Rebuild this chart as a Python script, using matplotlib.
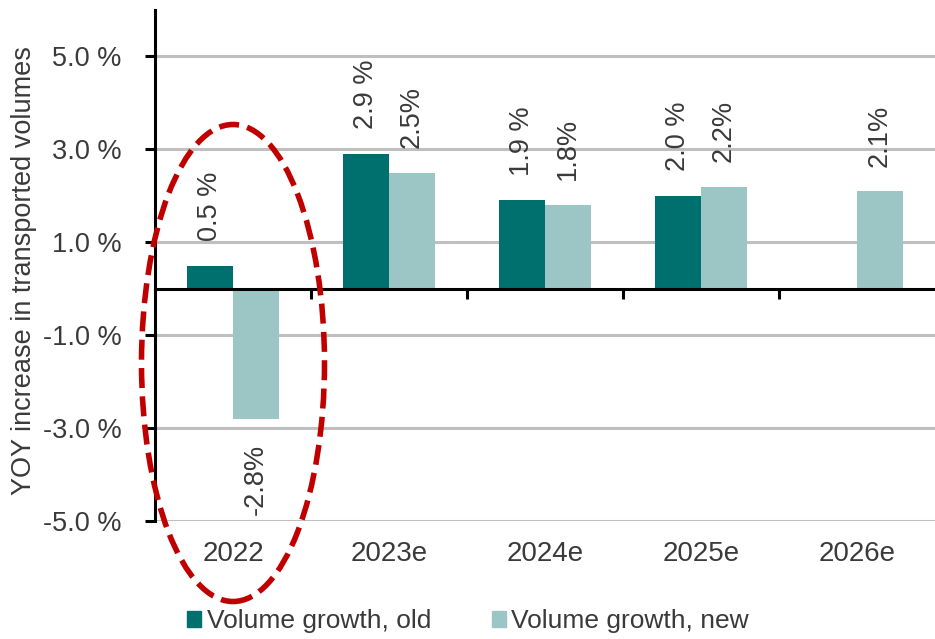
"""Year-on-year growth in transported volumes, old vs new forecast."""

import numpy as np
import matplotlib.pyplot as plt
from matplotlib.patches import Ellipse, Patch

YEARS = ["2022", "2023e", "2024e", "2025e", "2026e"]
GROWTH_OLD = [0.5, 2.9, 1.9, 2.0, np.nan]
GROWTH_NEW = [-2.8, 2.5, 1.8, 2.2, 2.1]
LABELS_OLD = ["0.5 %", "2.9 %", "1.9 %", "2.0 %", ""]
LABELS_NEW = ["-2.8%", "2.5%", "1.8%", "2.2%", "2.1%"]
Y_TICKS = [-5.0, -3.0, -1.0, 1.0, 3.0, 5.0]

DARK = "#00706E"
LIGHT = "#9CC6C6"
TEXT = "#3A3A3A"

plt.rcParams["font.family"] = ["Liberation Sans", "DejaVu Sans"]
plt.rcParams["font.size"] = 19.5

W, H = 935, 639
fig = plt.figure(figsize=(W / 100, H / 100), dpi=100)
ax = fig.add_axes([155 / W, 1 - 521 / H, 780 / W, 511 / H])

x = np.arange(len(YEARS))
off, width = 0.148, 0.295
ax.bar(x - off, GROWTH_OLD, width, color=DARK, zorder=3)
ax.bar(x + off, GROWTH_NEW, width, color=LIGHT, zorder=3)

# value labels, rotated, above positive bars and below negative ones
pad = 0.53
for xs, vals, labels in ((x - off, GROWTH_OLD, LABELS_OLD), (x + off, GROWTH_NEW, LABELS_NEW)):
    for xi, v, lab in zip(xs, vals, labels):
        if not lab:
            continue
        if v >= 0:
            ax.text(xi, v + pad, lab, rotation=90, ha="center", va="bottom", color=TEXT)
        else:
            ax.text(xi, v - pad, lab, rotation=90, ha="center", va="top", color=TEXT)

ax.set_xlim(-0.5, len(YEARS) - 0.5)
ax.set_ylim(-5, 6)
ax.set_yticks(Y_TICKS)
ax.set_yticklabels([f"{t:.1f} %" for t in Y_TICKS], color=TEXT)
ax.yaxis.grid(True, color="#BFBFBF", linewidth=2.2, zorder=0)
ax.set_axisbelow(True)

for side in ("top", "right"):
    ax.spines[side].set_visible(False)
ax.spines["left"].set_linewidth(2.2)
ax.spines["bottom"].set_position(("data", 0))
ax.spines["bottom"].set_linewidth(2.2)
ax.spines["bottom"].set_zorder(4)

ax.set_xticks(x[:-1] + 0.5)
ax.set_xticklabels([])
ax.tick_params(axis="x", direction="out", length=7, width=2.2)
ax.tick_params(axis="y", direction="out", length=7, width=2.2, pad=17)

# category names sit below the plot area
for xi, year in zip(x, YEARS):
    ax.text(xi, -0.04, year, transform=ax.get_xaxis_transform(),
            ha="center", va="top", color=TEXT, fontsize=20)

ax.set_ylabel("YOY increase in transported volumes", color=TEXT, fontsize=19.5)
ax.yaxis.set_label_coords(-118 / 780, 0.49)

# highlight the 2022 group
ring = Ellipse((233 / W, 1 - 363 / H), 183 / W, 477 / H, transform=fig.transFigure,
               fill=False, edgecolor="#C00000", linewidth=4, linestyle=(0, (3.6, 1.5)),
               zorder=10)
fig.patches.append(ring)

handles = [Patch(color=DARK, label="Volume growth, old"),
           Patch(color=LIGHT, label="Volume growth, new")]
fig.legend(handles=handles, loc="center left", bbox_to_anchor=(163 / W, 1 - 621 / H),
           ncol=2, frameon=False, handlelength=0.55, handleheight=0.55,
           handletextpad=0.2, columnspacing=2.3, labelcolor=TEXT, fontsize=19)

fig.savefig("out.png", dpi=100)
